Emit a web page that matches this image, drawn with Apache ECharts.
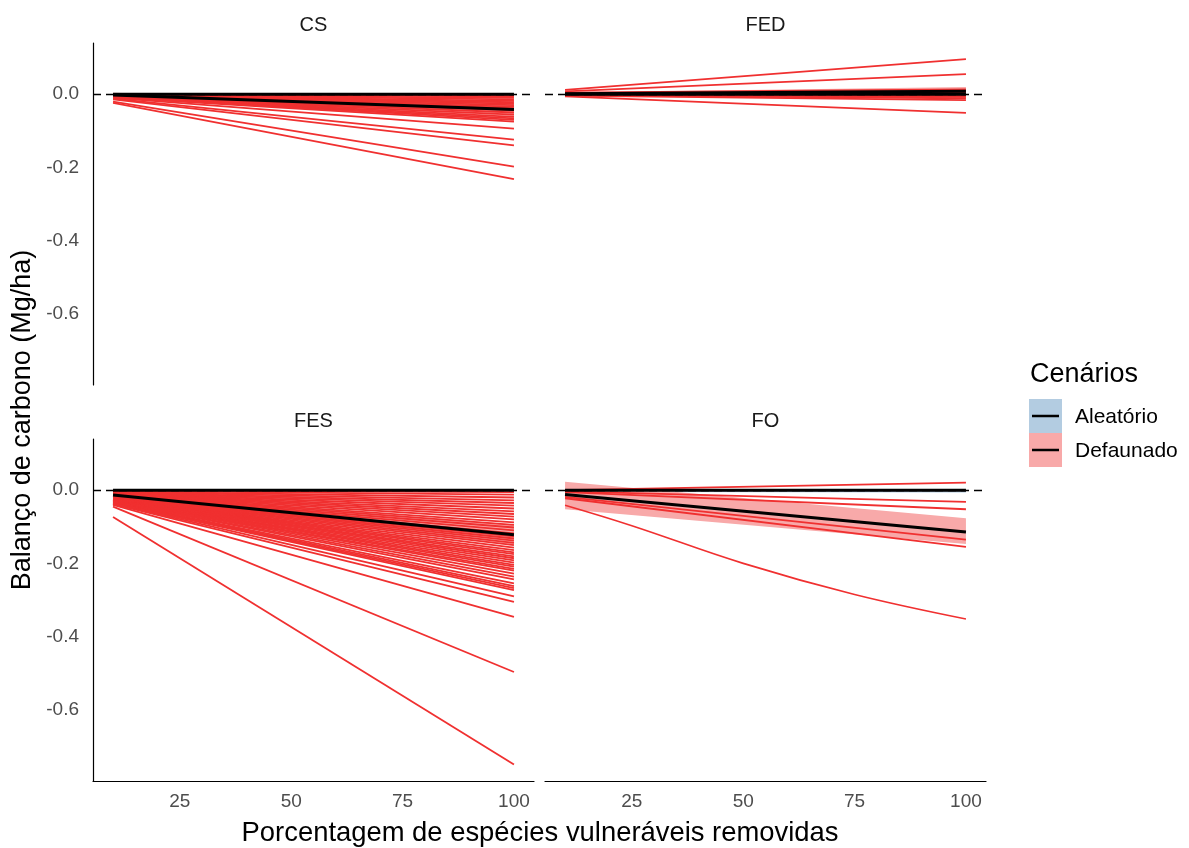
<!DOCTYPE html>
<html>
<head>
<meta charset="utf-8">
<script src="https://cdn.jsdelivr.net/npm/echarts@6/dist/echarts.min.js"></script>
<style>
html,body{margin:0;padding:0;background:#fff;}
#chart{width:1189px;height:848px;}
</style>
</head>
<body>
<div id="chart"></div>
<script>
// ---------------- DATA ----------------
const panels = ['CS', 'FED', 'FES', 'FO'];
const xTicks = [25, 50, 75, 100];
const yTicks = [-0.6, -0.4, -0.2, 0.0];
const xEnds = [10, 100];

// red lines (Defaunado runs): value at x=10 and x=100
const csRedStart = [-0.001,-0.001,-0.002,-0.002,-0.003,-0.003,-0.004,-0.004,-0.005,-0.005,-0.006,-0.006,-0.007,-0.007,-0.008,-0.008,-0.009,-0.010,-0.012,-0.014,-0.020,-0.024];
const csRedEnd   = [-0.003,-0.006,-0.010,-0.014,-0.018,-0.022,-0.026,-0.030,-0.034,-0.038,-0.044,-0.050,-0.056,-0.062,-0.066,-0.070,-0.075,-0.094,-0.124,-0.140,-0.198,-0.232];

const fedRedStart = [0.012, 0.008, 0.004, 0.003, 0.002, -0.001, -0.002, -0.003, -0.004, -0.006];
const fedRedEnd   = [0.096, 0.055, 0.013, 0.008, 0.004, -0.003, -0.007, -0.011, -0.016, -0.051];

const fesRedStart = [-0.001,-0.002,-0.003,-0.004,-0.005,-0.006,-0.007,-0.008,-0.009,-0.010,-0.011,-0.012,-0.013,-0.014,-0.015,-0.016,-0.017,-0.018,-0.019,-0.020,-0.021,-0.022,-0.023,-0.023,-0.024,-0.025,-0.025,-0.026,-0.027,-0.027,-0.028,-0.029,-0.030,-0.030,-0.031,-0.032,-0.033,-0.034,-0.035,-0.036,-0.037,-0.038,-0.040,-0.045,-0.073];
const fesRedEnd   = [-0.005,-0.012,-0.020,-0.028,-0.035,-0.042,-0.050,-0.058,-0.065,-0.072,-0.080,-0.088,-0.095,-0.102,-0.110,-0.118,-0.126,-0.132,-0.138,-0.144,-0.150,-0.157,-0.164,-0.170,-0.175,-0.181,-0.186,-0.192,-0.198,-0.204,-0.209,-0.215,-0.220,-0.228,-0.236,-0.244,-0.255,-0.262,-0.268,-0.273,-0.290,-0.305,-0.346,-0.497,-0.750];

const foRedStart = [0.000, -0.003, -0.005, -0.018, -0.022];
const foRedEnd   = [0.021, -0.032, -0.052, -0.135, -0.155];
const foCurveX = [10, 25, 50, 75, 100];
const foCurveY = [-0.041, -0.097, -0.200, -0.285, -0.352];

// mean lines and ribbons (x=10, x=100)
const aleMean = { CS: [0, 0], FED: [0, 0], FES: [0, 0], FO: [0, 0] };
const aleLow  = { CS: [-0.002, -0.002], FED: [-0.002, -0.002], FES: [-0.004, -0.004], FO: [-0.005, -0.006] };
const aleHigh = { CS: [0.001, 0.001], FED: [0.002, 0.002], FES: [0.001, 0.001], FO: [0.001, 0.001] };
const defMean = { CS: [-0.002, -0.042], FED: [0.001, 0.008], FES: [-0.013, -0.122], FO: [-0.012, -0.114] };
const defLow  = { CS: [-0.008, -0.060], FED: [-0.003, -0.004], FES: [-0.020, -0.150], FO: [-0.052, -0.147] };
const defHigh = { CS: [0.004, -0.024], FED: [0.005, 0.020], FES: [-0.006, -0.094], FO: [0.023, -0.077] };

// ---------------- LAYOUT ----------------
const RED = '#F03030';
const PINK = '#F8A9A9';
const BLUE = '#B3CCE1';
const grids = [
  { left: 93,  top: 43,  width: 441, height: 342 },
  { left: 545, top: 43,  width: 441, height: 342 },
  { left: 93,  top: 439, width: 441, height: 342 },
  { left: 545, top: 439, width: 441, height: 342 }
];
const FONT = 'Liberation Sans, Arial, sans-serif';

const xAxes = grids.map((g, i) => ({
  type: 'value', gridIndex: i, min: 5.5, max: 104.5,
  axisLine: { show: i >= 2, onZero: false, lineStyle: { color: '#000', width: 1.2 } },
  axisTick: { show: false },
  splitLine: { show: false },
  axisLabel: {
    show: i >= 2, customValues: xTicks, color: '#4D4D4D', fontSize: 19,
    fontFamily: FONT, margin: 11, formatter: v => String(v)
  }
}));
const yAxes = grids.map((g, i) => ({
  type: 'value', gridIndex: i, min: -0.795, max: 0.14,
  axisLine: { show: i % 2 === 0, onZero: false, lineStyle: { color: '#000', width: 1.2 } },
  axisTick: { show: false },
  splitLine: { show: false },
  axisLabel: {
    show: i % 2 === 0, customValues: yTicks, color: '#4D4D4D', fontSize: 19,
    fontFamily: FONT, margin: 14, formatter: v => (Math.abs(v) < 1e-9 ? '0.0' : v.toFixed(1))
  }
}));

const series = [];
function ribbon(idx, low, high, color) {
  series.push({
    type: 'custom', xAxisIndex: idx, yAxisIndex: idx, z: 1, silent: true,
    data: xEnds.map((x, i) => [x, low[i], high[i]]),
    encode: { x: 0, y: [1, 2] },
    renderItem: function (params, api) {
      if (params.dataIndex !== 0) return null;
      const pts = [];
      for (let i = 0; i < xEnds.length; i++) pts.push(api.coord([xEnds[i], high[i]]));
      for (let i = xEnds.length - 1; i >= 0; i--) pts.push(api.coord([xEnds[i], low[i]]));
      return { type: 'polygon', shape: { points: pts }, style: { fill: color } };
    }
  });
}
function line(idx, xs, ys, color, width, z, smooth) {
  series.push({
    type: 'line', xAxisIndex: idx, yAxisIndex: idx, z: z, silent: true,
    symbol: 'none', smooth: smooth || false, data: xs.map((x, i) => [x, ys[i]]),
    lineStyle: { color: color, width: width }
  });
}
const redSets = {
  CS: [csRedStart, csRedEnd], FED: [fedRedStart, fedRedEnd],
  FES: [fesRedStart, fesRedEnd], FO: [foRedStart, foRedEnd]
};
panels.forEach((p, idx) => {
  ribbon(idx, aleLow[p], aleHigh[p], BLUE);
  ribbon(idx, defLow[p], defHigh[p], PINK);
  // dashed zero reference line
  series.push({
    type: 'line', xAxisIndex: idx, yAxisIndex: idx, z: 2, silent: true, data: [],
    markLine: {
      silent: true, symbol: 'none', label: { show: false },
      lineStyle: { color: '#000', width: 1.3, type: [8, 5] },
      data: [{ yAxis: 0 }]
    }
  });
  const [s, e] = redSets[p];
  s.forEach((v, i) => line(idx, xEnds, [v, e[i]], RED, 1.8, 3));
  if (p === 'FO') line(idx, foCurveX, foCurveY, RED, 1.6, 3, 0.4);
  line(idx, xEnds, aleMean[p], '#000', 3, 5);
  line(idx, xEnds, defMean[p], '#000', 3, 5);
});

const stripY = [25, 25, 421, 421];
const graphic = panels.map((p, i) => ({
  type: 'text', x: grids[i].left + grids[i].width / 2, y: stripY[i],
  style: { text: p, font: '20px ' + FONT, fill: '#1A1A1A', textAlign: 'center', textVerticalAlign: 'middle' }
}));
// axis titles
graphic.push({
  type: 'text', x: 540, y: 833,
  style: { text: 'Porcentagem de espécies vulneráveis removidas', font: '27.4px ' + FONT, fill: '#000', textAlign: 'center', textVerticalAlign: 'middle' }
});
graphic.push({
  type: 'text', x: 23, y: 420, rotation: Math.PI / 2,
  style: { text: 'Balanço de carbono (Mg/ha)', font: '27px ' + FONT, fill: '#000', textAlign: 'center', textVerticalAlign: 'middle' }
});
// legend
graphic.push({
  type: 'text', x: 1030, y: 375,
  style: { text: 'Cenários', font: '27px ' + FONT, fill: '#000', textAlign: 'left', textVerticalAlign: 'middle' }
});
[['Aleatório', BLUE, 399], ['Defaunado', PINK, 433]].forEach(([lab, col, y]) => {
  graphic.push({ type: 'rect', shape: { x: 1029, y: y, width: 33, height: 34 }, style: { fill: col } });
  graphic.push({ type: 'line', shape: { x1: 1032, y1: y + 17, x2: 1059, y2: y + 17 }, style: { stroke: '#000', lineWidth: 2.5 } });
  graphic.push({
    type: 'text', x: 1075, y: y + 18,
    style: { text: lab, font: '21px ' + FONT, fill: '#000', textAlign: 'left', textVerticalAlign: 'middle' }
  });
});

const chart = echarts.init(document.getElementById('chart'), null, { renderer: 'canvas' });
chart.setOption({
  animation: false,
  backgroundColor: '#fff',
  grid: grids,
  xAxis: xAxes,
  yAxis: yAxes,
  series: series,
  graphic: graphic
});
</script>
</body>
</html>
